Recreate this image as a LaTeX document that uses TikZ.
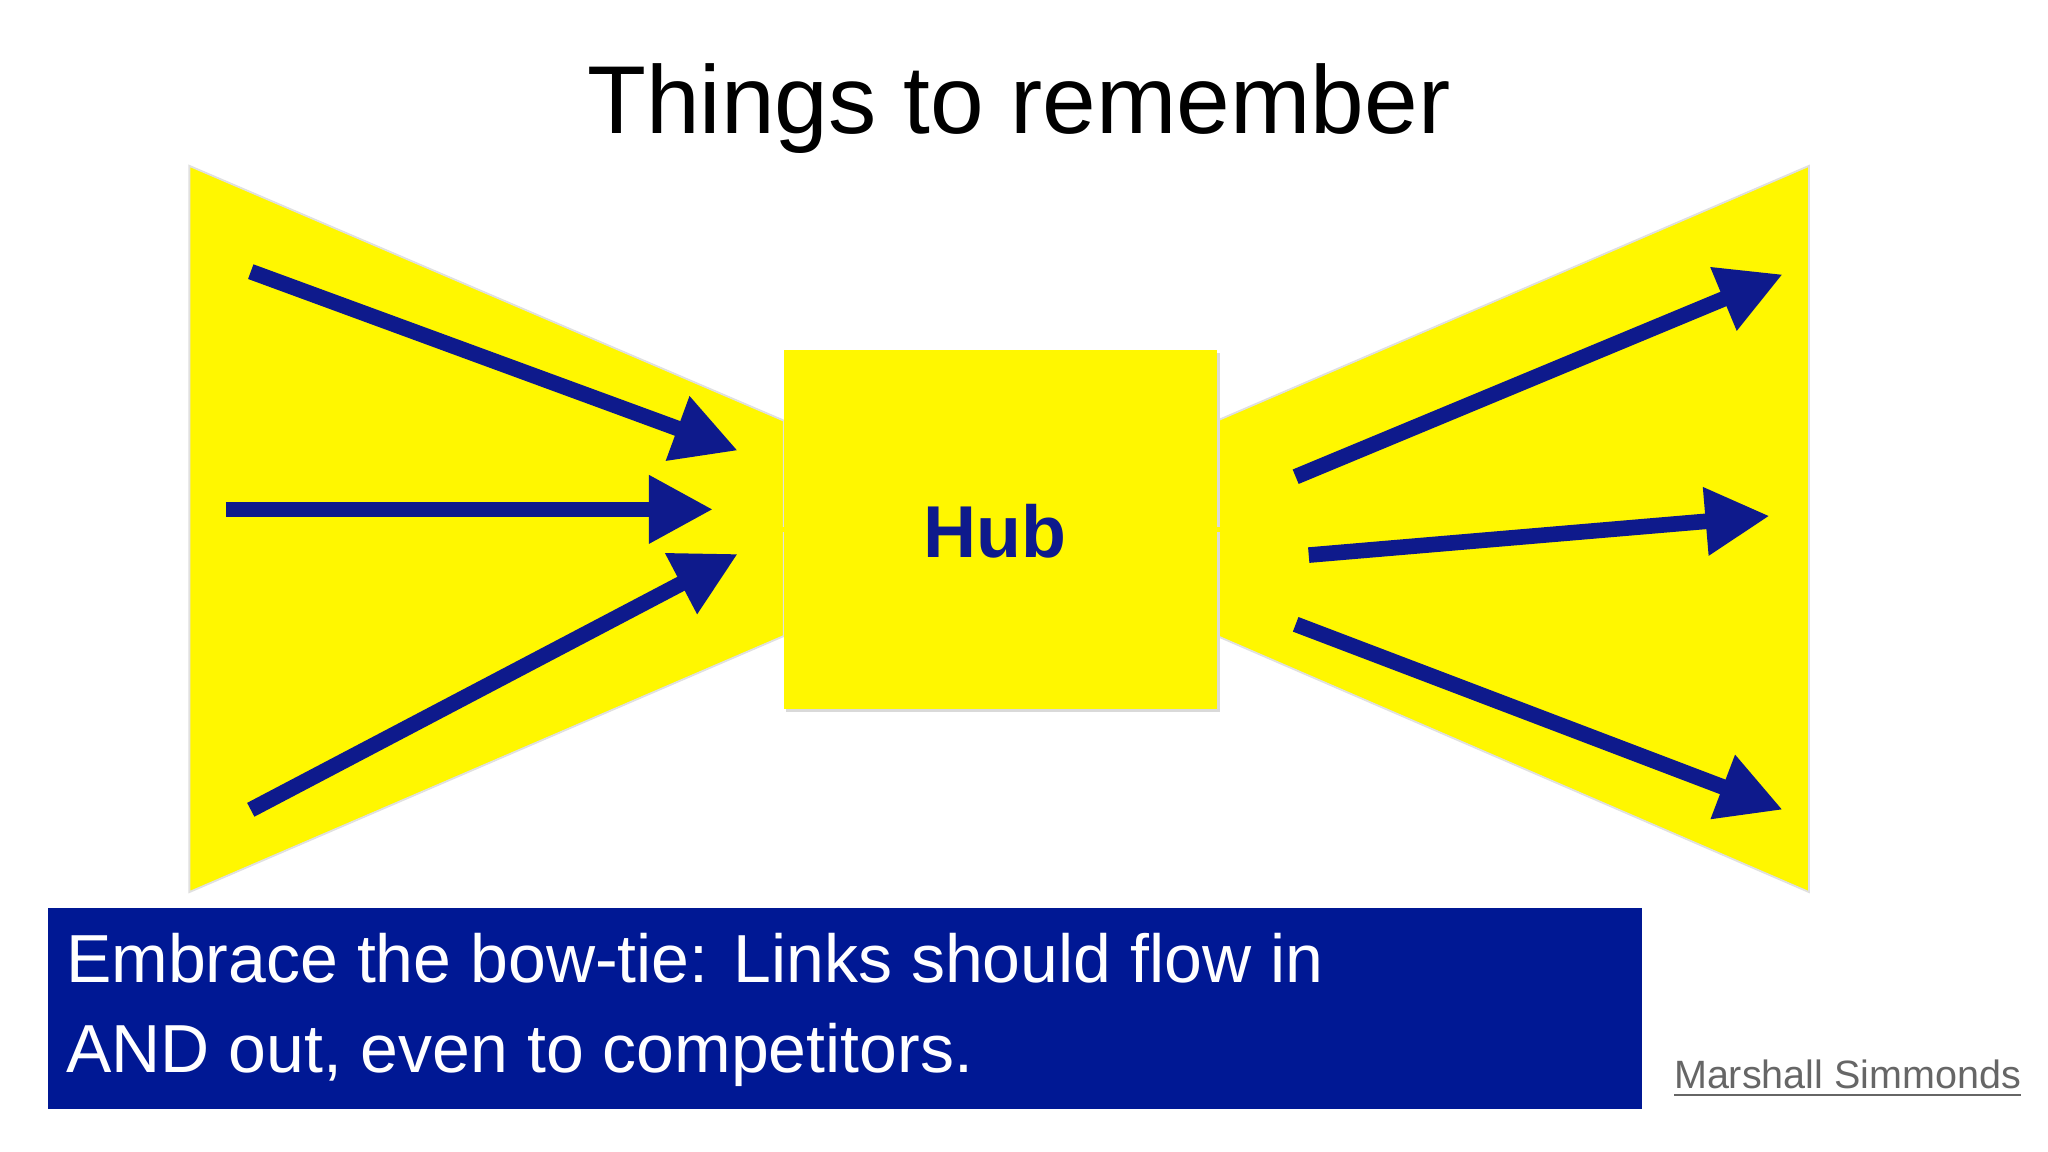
\documentclass[tikz,border=0pt]{standalone}
\usepackage{fontspec}
\setmainfont{Liberation Sans}
\usetikzlibrary{arrows.meta}
\definecolor{navy}{RGB}{14,26,140}
\definecolor{boxblue}{RGB}{0,24,148}
\definecolor{bowyellow}{RGB}{255,247,0}
\tikzset{
  flow/.style={draw=navy, line width=3.4pt, -{Triangle[length=14pt,width=14pt]}},
  wing/.style={fill=bowyellow, draw=black!12, line width=0.4pt}
}
\begin{document}
\begin{tikzpicture}[x=0.01cm,y=-0.01cm]
\path[use as bounding box] (0,0) rectangle (1568,882);
\fill[white] (0,0) rectangle (1568,882);
\node (title) at (780,83) {\fontsize{21pt}{24pt}\selectfont Things to remember};
\draw[wing] (145,127) -- (600,322) -- (600,487) -- (145,683) -- cycle;
\draw[wing] (1385,127) -- (932,322) -- (932,487) -- (1385,683) -- cycle;
\fill[black!15] (602,270) rectangle (934,545);
\node[fill=bowyellow, minimum width=332\pgflinewidth, inner sep=0] (hub) at (766,405.5) {};
\fill[bowyellow] (600,268) rectangle (932,543);
\node[text=navy, font=\bfseries\fontsize{16pt}{18pt}\selectfont] (hubl) at (762,407) {Hub};
\coordinate (a1s) at (192,208); \coordinate (a1e) at (565,345);
\coordinate (a2s) at (173,390); \coordinate (a2e) at (546,390);
\coordinate (a3s) at (192,620); \coordinate (a3e) at (565,424);
\coordinate (b1s) at (992,365); \coordinate (b1e) at (1365,210);
\coordinate (b2s) at (1002,425); \coordinate (b2e) at (1355,395);
\coordinate (b3s) at (992,478); \coordinate (b3e) at (1365,620);
\draw[flow] (a1s) -- (a1e);
\draw[flow] (a2s) -- (a2e);
\draw[flow] (a3s) -- (a3e);
\draw[flow] (b1s) -- (b1e);
\draw[flow] (b2s) -- (b2e);
\draw[flow] (b3s) -- (b3e);
\fill[boxblue] (37,695) rectangle (1257,849);
\node[anchor=west, text=white, align=left, font=\fontsize{14.8pt}{19.6pt}\selectfont, inner sep=0] (msg) at (50,773) {Embrace the bow-tie: Links should flow in\\AND out, even to competitors.};
\node[anchor=east, text=black!60, font=\fontsize{8.6pt}{10pt}\selectfont, inner sep=0] (auth) at (1548,826) {\underline{Marshall Simmonds}};
\end{tikzpicture}
\end{document}
